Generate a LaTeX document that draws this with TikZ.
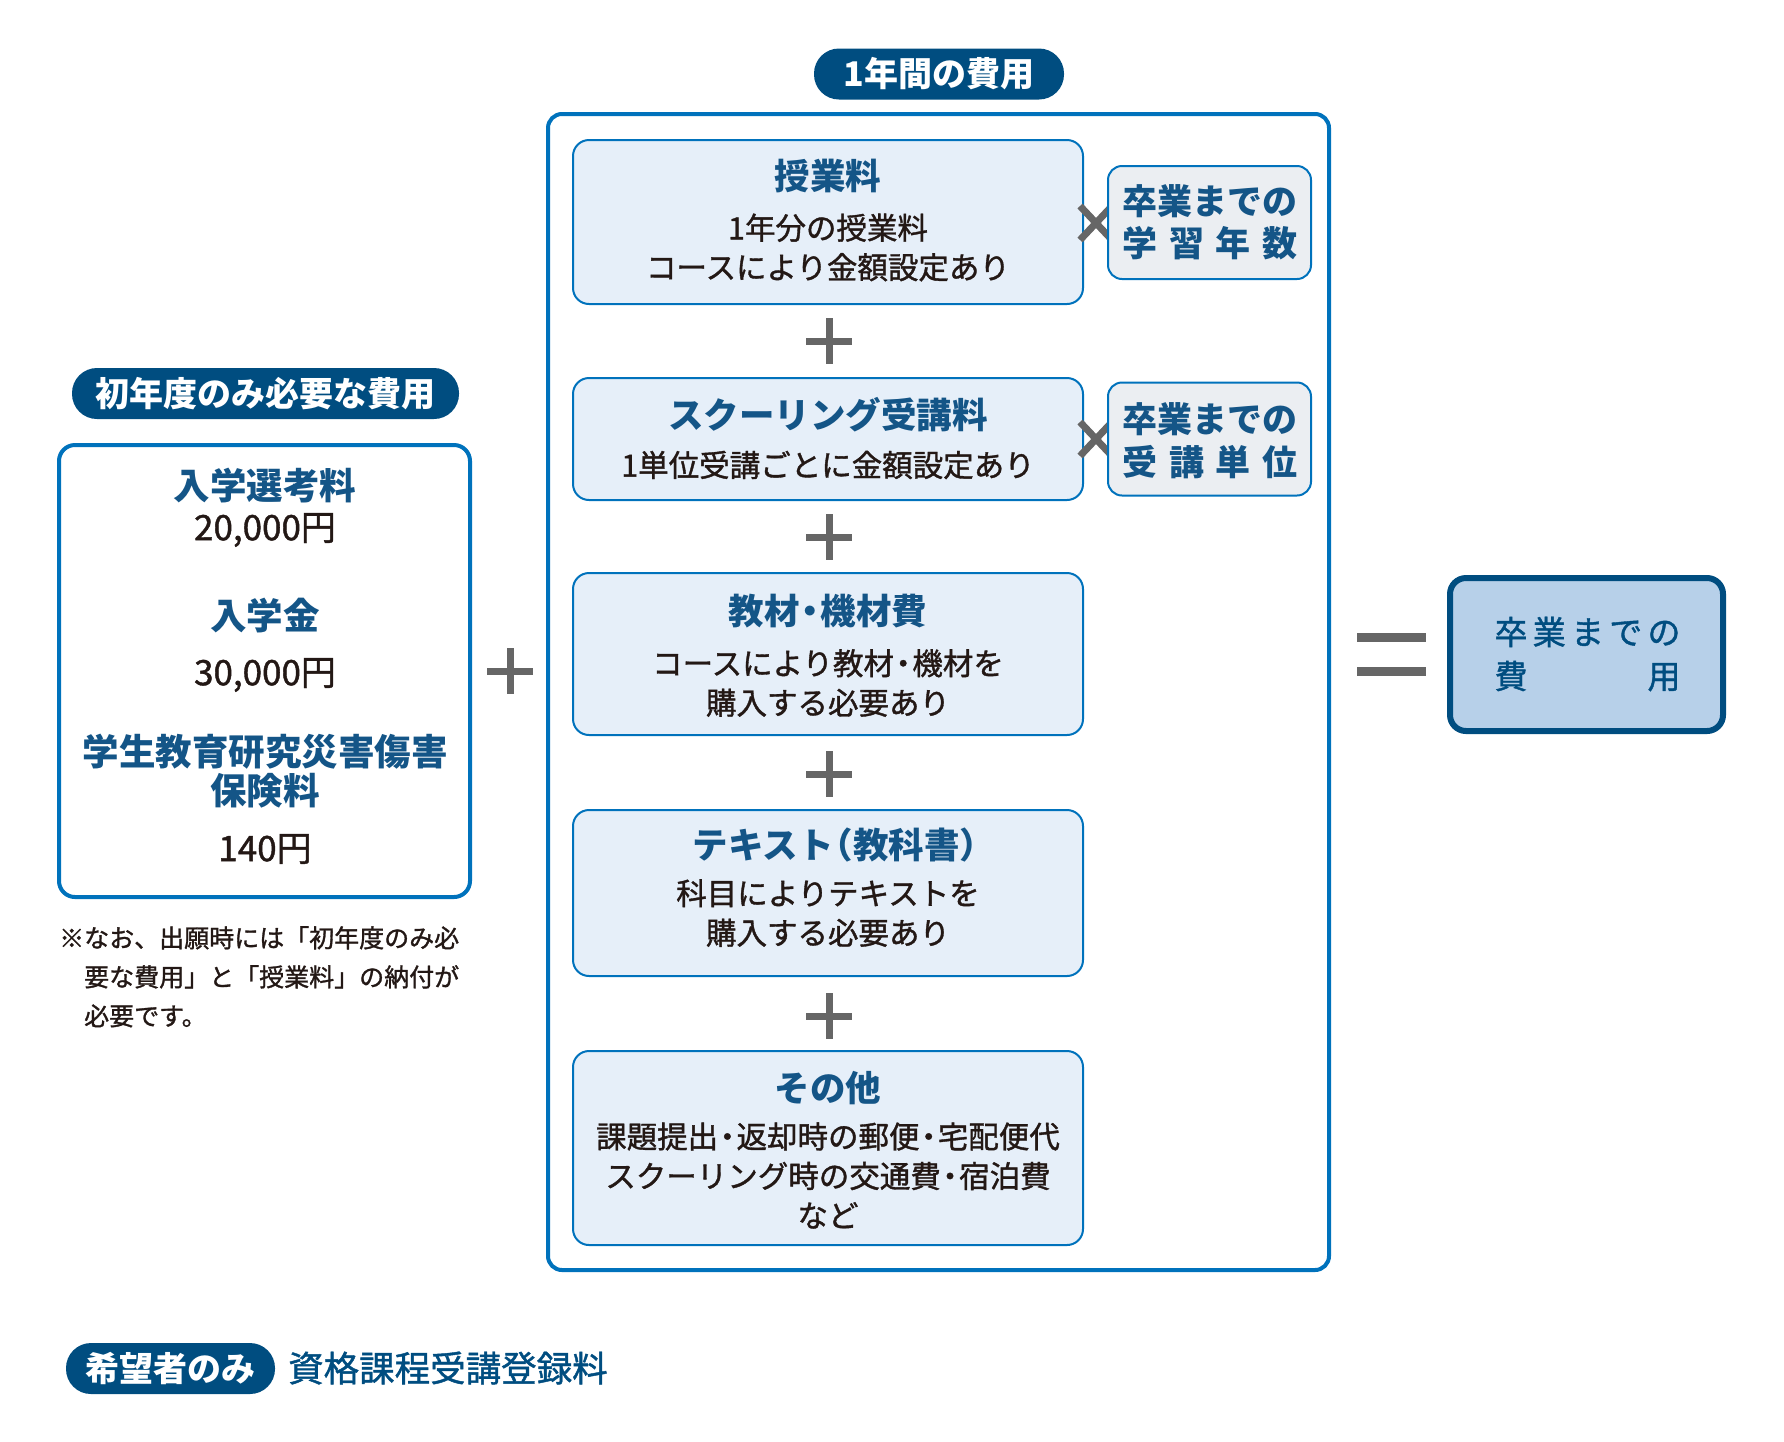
\documentclass[tikz,border=0pt]{standalone}
\usepackage{fontspec}
\newfontfamily\jp{Noto Sans CJK JP}
\newfontfamily\jpm[FakeBold=1.2]{Noto Sans CJK JP}

\definecolor{navy}{RGB}{0,77,128}
\definecolor{frameblue}{RGB}{0,114,188}
\definecolor{boxfill}{RGB}{230,239,249}
\definecolor{sidefill}{RGB}{235,238,242}
\definecolor{resfill}{RGB}{183,208,233}
\definecolor{titleblue}{RGB}{20,85,135}
\definecolor{ink}{RGB}{35,24,21}
\definecolor{opgray}{RGB}{102,102,102}

\tikzset{
  costbox/.style={draw=frameblue, line width=2pt, fill=boxfill, rounded corners=16pt,
    minimum width=510pt, inner sep=0pt},
  sidebox/.style={draw=frameblue, line width=2pt, fill=sidefill, rounded corners=14pt,
    minimum width=203pt, minimum height=113pt, inner sep=0pt},
  pill/.style={fill=navy, text=white, rounded corners=25pt, inner sep=0pt,
    minimum height=51pt, font=\jp\bfseries\fontsize{34}{40}\selectfont},
  ttl/.style={text=titleblue, inner sep=0pt, align=center,
    font=\jp\bfseries\fontsize{35.5}{39}\selectfont},
  body/.style={text=ink, inner sep=0pt, align=center,
    font=\jpm\fontsize{30.5}{39.5}\selectfont},
  price/.style={text=ink, inner sep=0pt, font=\jpm\fontsize{35}{38}\selectfont},
  opline/.style={draw=opgray, line width=7pt},
  plussign/.pic={\draw[opline] (-23,0) -- (23,0) (0,-23) -- (0,23);},
  timessign/.pic={\draw[opline, line width=7pt] (-16,-17) -- (16,17) (-16,17) -- (16,-17);}
}

\begin{document}
\begin{tikzpicture}[x=1pt, y=-1pt]
\useasboundingbox (0,0) rectangle (1784,1441);

% first year only
\node[pill, minimum width=387pt] (firstpill) at (265.5,393.5) {初年度のみ必要な費用};
\node[draw=frameblue, line width=4pt, rounded corners=16pt, minimum width=411pt,
  minimum height=452pt] (firstbox) at (264.5,671) {};
\node[ttl, font=\jp\bfseries\fontsize{36.5}{39}\selectfont] (exam) at (265,486) {入学選考料};
\node[price] (examfee) at (265,530) {20,000円};
\node[ttl, font=\jp\bfseries\fontsize{36.5}{39}\selectfont] (entry) at (265,616) {入学金};
\node[price] (entryfee) at (265,675) {30,000円};
\node[ttl, font=\jp\bfseries\fontsize{36.5}{39}\selectfont] (insure) at (265,771.5)
  {学生教育研究災害傷害\\保険料};
\node[price] (insurefee) at (265,849) {140円};
\node[text=ink, inner sep=0pt, anchor=north west, align=left,
  font=\jpm\fontsize{25}{39}\selectfont] (note) at (59,926)
  {※なお、出願時には「初年度のみ必\\\hspace*{1em}要な費用」と「授業料」の納付が\\\hspace*{1em}必要です。};

\pic at (510,671) {plussign};

% yearly costs
\node[draw=frameblue, line width=4pt, rounded corners=14pt, minimum width=781pt,
  minimum height=1156pt] (yearframe) at (938.5,692) {};
\node[pill, minimum width=250pt] (yearpill) at (939,74) {1年間の費用};

\node[costbox, minimum height=164pt] (tuition) at (828,222) {};
\node[ttl] (tuitiont) at (828,176) {授業料};
\node[body] (tuitiond) at (828,247.5) {1年分の授業料\\コースにより金額設定あり};
\pic at (1096,223) {timessign};
\node[sidebox] (years) at (1209.5,222.5) {};
\node[ttl, font=\jp\bfseries\fontsize{35}{42}\selectfont] (yearst) at (1210,222)
  {卒業までの\\\makebox[5em][s]{学\hfill 習\hfill 年\hfill 数}};
\pic at (829,341) {plussign};

\node[costbox, minimum height=122pt] (schooling) at (828,439) {};
\node[ttl] (schoolingt) at (828,415) {スクーリング受講料};
\node[body] (schoolingd) at (828,465) {1単位受講ごとに金額設定あり};
\pic at (1096,439) {timessign};
\node[sidebox] (units) at (1209.5,439) {};
\node[ttl, font=\jp\bfseries\fontsize{35}{43}\selectfont] (unitst) at (1210,440.5)
  {卒業までの\\\makebox[5em][s]{受\hfill 講\hfill 単\hfill 位}};
\pic at (829,537) {plussign};

\node[costbox, minimum height=162pt] (material) at (828,654) {};
\node[ttl] (materialt) at (828,611) {教材\kern-.2em・\kern-.2em機材費};
\node[body] (materiald) at (828,683) {コースにより教材\kern-.2em・\kern-.2em機材を\\購入する必要あり};
\pic at (829,774) {plussign};

\node[costbox, minimum height=166pt] (textbook) at (828,893) {};
\node[ttl] (textbookt) at (836,845) {テキスト\kern-.45em（教科書）\kern-.45em};
\node[body] (textbookd) at (828,913) {科目によりテキストを\\購入する必要あり};
\pic at (829,1016) {plussign};

\node[costbox, minimum height=194pt] (other) at (828,1148) {};
\node[ttl] (othert) at (828,1088) {その他};
\node[body] (otherd) at (828,1175.5)
  {課題提出\kern-.2em・\kern-.2em返却時の郵便\kern-.2em・\kern-.2em宅配便代\\スクーリング時の交通費\kern-.2em・\kern-.2em宿泊費\\など};

% total
\draw[opline, line width=9pt] (1357,637) -- (1426,637) (1357,671) -- (1426,671);
\node[draw=navy, line width=6pt, fill=resfill, rounded corners=16pt, minimum width=273pt,
  minimum height=153pt] (total) at (1586.5,654.5) {};
\node[text=navy, inner sep=0pt, align=center, font=\jpm\fontsize{33}{44}\selectfont]
  (totalt) at (1587.5,654)
  {\makebox[186pt][s]{卒\hfill 業\hfill ま\hfill で\hfill の}\\\makebox[186pt][s]{費\hfill 用}};

% optional
\node[pill, minimum width=209pt] (optpill) at (170.5,1368.5) {希望者のみ};
\node[text=navy, inner sep=0pt, anchor=west, font=\jpm\fontsize{35.5}{40}\selectfont]
  (optfee) at (288,1368) {資格課程受講登録料};
\end{tikzpicture}
\end{document}
